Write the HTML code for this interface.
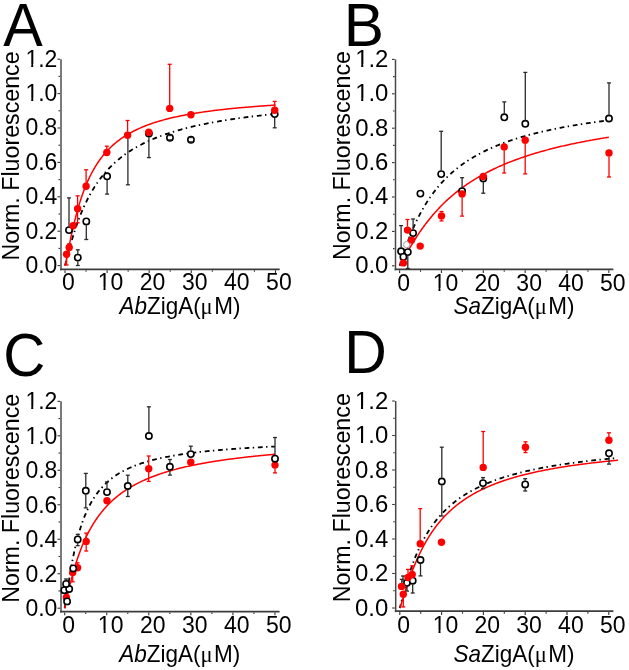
<!DOCTYPE html><html><head><meta charset="utf-8"><style>html,body{margin:0;padding:0;background:#fff;}svg{display:block;will-change:transform;}text{font-family:"Liberation Sans", sans-serif;fill:#000;}</style></head><body>
<svg width="629" height="670" viewBox="0 0 629 670">
<rect width="629" height="670" fill="#fff"/>
<defs><clipPath id="clipA"><rect x="61.9" y="29.200000000000017" width="223.7" height="239.2"/></clipPath></defs>
<line x1="61.0" y1="59.20000000000002" x2="61.0" y2="270.2" stroke="#6b6b6b" stroke-width="1.8"/>
<line x1="60.1" y1="269.3" x2="279.7" y2="269.3" stroke="#3c3c3c" stroke-width="1.8"/>
<line x1="57.50" y1="265.60" x2="60.1" y2="265.60" stroke="#333" stroke-width="1.1"/>
<line x1="58.50" y1="248.40" x2="60.1" y2="248.40" stroke="#333" stroke-width="1.1"/>
<line x1="57.50" y1="231.20" x2="60.1" y2="231.20" stroke="#333" stroke-width="1.1"/>
<line x1="58.50" y1="214.00" x2="60.1" y2="214.00" stroke="#333" stroke-width="1.1"/>
<line x1="57.50" y1="196.80" x2="60.1" y2="196.80" stroke="#333" stroke-width="1.1"/>
<line x1="58.50" y1="179.60" x2="60.1" y2="179.60" stroke="#333" stroke-width="1.1"/>
<line x1="57.50" y1="162.40" x2="60.1" y2="162.40" stroke="#333" stroke-width="1.1"/>
<line x1="58.50" y1="145.20" x2="60.1" y2="145.20" stroke="#333" stroke-width="1.1"/>
<line x1="57.50" y1="128.00" x2="60.1" y2="128.00" stroke="#333" stroke-width="1.1"/>
<line x1="58.50" y1="110.80" x2="60.1" y2="110.80" stroke="#333" stroke-width="1.1"/>
<line x1="57.50" y1="93.60" x2="60.1" y2="93.60" stroke="#333" stroke-width="1.1"/>
<line x1="58.50" y1="76.40" x2="60.1" y2="76.40" stroke="#333" stroke-width="1.1"/>
<line x1="57.50" y1="59.20" x2="60.1" y2="59.20" stroke="#333" stroke-width="1.1"/>
<line x1="65.00" y1="270.2" x2="65.00" y2="273.00" stroke="#333" stroke-width="1.1"/>
<line x1="86.05" y1="270.2" x2="86.05" y2="271.80" stroke="#333" stroke-width="1.1"/>
<line x1="107.10" y1="270.2" x2="107.10" y2="273.00" stroke="#333" stroke-width="1.1"/>
<line x1="128.15" y1="270.2" x2="128.15" y2="271.80" stroke="#333" stroke-width="1.1"/>
<line x1="149.20" y1="270.2" x2="149.20" y2="273.00" stroke="#333" stroke-width="1.1"/>
<line x1="170.25" y1="270.2" x2="170.25" y2="271.80" stroke="#333" stroke-width="1.1"/>
<line x1="191.30" y1="270.2" x2="191.30" y2="273.00" stroke="#333" stroke-width="1.1"/>
<line x1="212.35" y1="270.2" x2="212.35" y2="271.80" stroke="#333" stroke-width="1.1"/>
<line x1="233.40" y1="270.2" x2="233.40" y2="273.00" stroke="#333" stroke-width="1.1"/>
<line x1="254.45" y1="270.2" x2="254.45" y2="271.80" stroke="#333" stroke-width="1.1"/>
<line x1="275.50" y1="270.2" x2="275.50" y2="273.00" stroke="#333" stroke-width="1.1"/>
<g transform="translate(57.4,273.00) scale(1.0,1.04)"><text text-anchor="end" font-size="23">0.0</text>
</g>
<g transform="translate(57.4,238.60) scale(1.0,1.04)"><text text-anchor="end" font-size="23">0.2</text>
</g>
<g transform="translate(57.4,204.20) scale(1.0,1.04)"><text text-anchor="end" font-size="23">0.4</text>
</g>
<g transform="translate(57.4,169.80) scale(1.0,1.04)"><text text-anchor="end" font-size="23">0.6</text>
</g>
<g transform="translate(57.4,135.40) scale(1.0,1.04)"><text text-anchor="end" font-size="23">0.8</text>
</g>
<g transform="translate(57.4,101.00) scale(1.0,1.04)"><text text-anchor="end" font-size="23">1.0</text>
<rect x="-30.85" y="-2.58" width="4.66" height="3.48" fill="#fff"/>
<rect x="-24.15" y="-2.58" width="4.65" height="3.48" fill="#fff"/>
</g>
<g transform="translate(57.4,66.60) scale(1.0,1.04)"><text text-anchor="end" font-size="23">1.2</text>
<rect x="-30.85" y="-2.58" width="4.66" height="3.48" fill="#fff"/>
<rect x="-24.15" y="-2.58" width="4.65" height="3.48" fill="#fff"/>
</g>
<g transform="translate(68.40,290.0) scale(1,1.04)"><text text-anchor="middle" font-size="23">0</text>
</g>
<g transform="translate(110.50,290.0) scale(1,1.04)"><text text-anchor="middle" font-size="23">10</text>
<rect x="-11.66" y="-2.58" width="4.66" height="3.48" fill="#fff"/>
<rect x="-4.97" y="-2.58" width="4.65" height="3.48" fill="#fff"/>
</g>
<g transform="translate(152.60,290.0) scale(1,1.04)"><text text-anchor="middle" font-size="23">20</text>
</g>
<g transform="translate(194.70,290.0) scale(1,1.04)"><text text-anchor="middle" font-size="23">30</text>
</g>
<g transform="translate(236.80,290.0) scale(1,1.04)"><text text-anchor="middle" font-size="23">40</text>
</g>
<g transform="translate(278.90,290.0) scale(1,1.04)"><text text-anchor="middle" font-size="23">50</text>
</g>
<text transform="translate(18.5,260.4) rotate(-90) scale(1.01,1.04)" font-size="23">Norm. Fluorescence</text>
<text transform="translate(179.9,313.7) scale(1,1.04)" text-anchor="middle" font-size="22.5"><tspan font-style="italic">Ab</tspan>ZigA(<tspan font-family="Liberation Serif">μ</tspan><tspan dx="1.5">M)</tspan></text>
<text transform="translate(3.2,45.7) scale(1.02,1.055)" font-size="58">A</text>
<g clip-path="url(#clipA)">
<path d="M65.00,265.60 L65.22,264.88 L65.43,264.09 L65.65,263.28 L65.86,262.45 L66.08,261.61 L66.30,260.77 L66.51,259.93 L66.73,259.08 L66.94,258.24 L67.16,257.40 L67.37,256.56 L67.59,255.72 L67.81,254.89 L68.02,254.06 L68.24,253.23 L68.45,252.41 L68.67,251.59 L68.89,250.78 L69.10,249.97 L69.32,249.17 L69.53,248.37 L69.75,247.58 L69.97,246.79 L70.18,246.01 L70.40,245.23 L70.61,244.46 L70.83,243.70 L71.05,242.94 L71.26,242.18 L71.48,241.43 L71.69,240.69 L71.91,239.95 L72.12,239.22 L72.34,238.49 L72.56,237.77 L72.77,237.05 L72.99,236.34 L73.20,235.64 L73.42,234.94 L74.44,231.72 L75.45,228.62 L76.47,225.63 L77.48,222.75 L78.50,219.98 L79.51,217.30 L80.53,214.72 L81.54,212.23 L82.56,209.83 L83.57,207.52 L84.59,205.28 L85.61,203.12 L86.62,201.04 L87.64,199.02 L88.65,197.07 L89.67,195.18 L90.68,193.36 L91.70,191.59 L92.71,189.88 L93.73,188.22 L94.75,186.61 L95.76,185.05 L96.78,183.54 L97.79,182.07 L98.81,180.64 L99.82,179.26 L100.84,177.92 L101.85,176.61 L102.87,175.34 L103.88,174.10 L104.90,172.90 L105.92,171.73 L106.93,170.60 L107.95,169.49 L108.96,168.41 L109.98,167.36 L110.99,166.33 L112.01,165.33 L113.02,164.36 L114.04,163.41 L115.05,162.48 L116.07,161.58 L117.09,160.69 L118.10,159.83 L119.12,158.99 L120.13,158.17 L121.15,157.36 L122.16,156.58 L123.18,155.81 L124.19,155.06 L125.21,154.32 L126.22,153.60 L127.24,152.90 L128.26,152.21 L129.27,151.54 L130.29,150.88 L131.30,150.23 L132.32,149.60 L133.33,148.98 L134.35,148.37 L135.36,147.77 L136.38,147.19 L137.40,146.62 L138.41,146.06 L139.43,145.51 L140.44,144.97 L141.46,144.44 L142.47,143.92 L143.49,143.41 L144.50,142.90 L145.52,142.41 L146.53,141.93 L147.55,141.46 L148.57,140.99 L149.58,140.53 L150.60,140.08 L151.61,139.64 L152.63,139.21 L153.64,138.78 L154.66,138.36 L155.67,137.95 L156.69,137.54 L157.70,137.15 L158.72,136.75 L159.74,136.37 L160.75,135.99 L161.77,135.62 L162.78,135.25 L163.80,134.89 L164.81,134.53 L165.83,134.18 L166.84,133.84 L167.86,133.50 L168.87,133.16 L169.89,132.83 L170.91,132.51 L171.92,132.19 L172.94,131.87 L173.95,131.56 L174.97,131.26 L175.98,130.96 L177.00,130.66 L178.01,130.37 L179.03,130.08 L180.05,129.80 L181.06,129.52 L182.08,129.24 L183.09,128.97 L184.11,128.70 L185.12,128.43 L186.14,128.17 L187.15,127.91 L188.17,127.66 L189.18,127.41 L190.20,127.16 L191.22,126.92 L192.23,126.67 L193.25,126.44 L194.26,126.20 L195.28,125.97 L196.29,125.74 L197.31,125.51 L198.32,125.29 L199.34,125.07 L200.35,124.85 L201.37,124.64 L202.39,124.43 L203.40,124.22 L204.42,124.01 L205.43,123.80 L206.45,123.60 L207.46,123.40 L208.48,123.20 L209.49,123.01 L210.51,122.82 L211.52,122.63 L212.54,122.44 L213.56,122.25 L214.57,122.07 L215.59,121.89 L216.60,121.71 L217.62,121.53 L218.63,121.35 L219.65,121.18 L220.66,121.01 L221.68,120.84 L222.70,120.67 L223.71,120.50 L224.73,120.34 L225.74,120.18 L226.76,120.02 L227.77,119.86 L228.79,119.70 L229.80,119.54 L230.82,119.39 L231.83,119.24 L232.85,119.09 L233.87,118.94 L234.88,118.79 L235.90,118.64 L236.91,118.50 L237.93,118.36 L238.94,118.22 L239.96,118.08 L240.97,117.94 L241.99,117.80 L243.00,117.66 L244.02,117.53 L245.04,117.40 L246.05,117.26 L247.07,117.13 L248.08,117.00 L249.10,116.88 L250.11,116.75 L251.13,116.62 L252.14,116.50 L253.16,116.37 L254.17,116.25 L255.19,116.13 L256.21,116.01 L257.22,115.89 L258.24,115.78 L259.25,115.66 L260.27,115.54 L261.28,115.43 L262.30,115.32 L263.31,115.20 L264.33,115.09 L265.35,114.98 L266.36,114.87 L267.38,114.76 L268.39,114.66 L269.41,114.55 L270.42,114.45 L271.44,114.34 L272.45,114.24 L273.47,114.13 L274.48,114.03 L275.50,113.93" fill="none" stroke="#000" stroke-width="1.8" stroke-dasharray="4.8,3.40,1.4,3.81" stroke-dashoffset="0.23"/>
<path d="M65.00,265.60 L65.22,264.92 L65.43,264.07 L65.65,263.15 L65.86,262.17 L66.08,261.17 L66.30,260.14 L66.51,259.09 L66.73,258.03 L66.94,256.96 L67.16,255.88 L67.37,254.80 L67.59,253.72 L67.81,252.63 L68.02,251.54 L68.24,250.45 L68.45,249.37 L68.67,248.29 L68.89,247.21 L69.10,246.13 L69.32,245.07 L69.53,244.00 L69.75,242.94 L69.97,241.89 L70.18,240.85 L70.40,239.81 L70.61,238.78 L70.83,237.76 L71.05,236.74 L71.26,235.73 L71.48,234.73 L71.69,233.74 L71.91,232.76 L72.12,231.78 L72.34,230.81 L72.56,229.85 L72.77,228.90 L72.99,227.96 L73.20,227.03 L73.42,226.10 L74.44,221.86 L75.45,217.81 L76.47,213.94 L77.48,210.25 L78.50,206.73 L79.51,203.37 L80.53,200.16 L81.54,197.10 L82.56,194.17 L83.57,191.38 L84.59,188.72 L85.61,186.17 L86.62,183.73 L87.64,181.40 L88.65,179.16 L89.67,177.02 L90.68,174.97 L91.70,173.01 L92.71,171.12 L93.73,169.31 L94.75,167.57 L95.76,165.90 L96.78,164.29 L97.79,162.74 L98.81,161.25 L99.82,159.81 L100.84,158.43 L101.85,157.09 L102.87,155.81 L103.88,154.57 L104.90,153.37 L105.92,152.21 L106.93,151.09 L107.95,150.00 L108.96,148.95 L109.98,147.94 L110.99,146.96 L112.01,146.00 L113.02,145.08 L114.04,144.19 L115.05,143.32 L116.07,142.48 L117.09,141.66 L118.10,140.87 L119.12,140.10 L120.13,139.35 L121.15,138.63 L122.16,137.92 L123.18,137.23 L124.19,136.56 L125.21,135.91 L126.22,135.28 L127.24,134.66 L128.26,134.06 L129.27,133.47 L130.29,132.90 L131.30,132.34 L132.32,131.80 L133.33,131.27 L134.35,130.75 L135.36,130.25 L136.38,129.76 L137.40,129.28 L138.41,128.81 L139.43,128.35 L140.44,127.90 L141.46,127.46 L142.47,127.03 L143.49,126.62 L144.50,126.21 L145.52,125.81 L146.53,125.41 L147.55,125.03 L148.57,124.65 L149.58,124.29 L150.60,123.93 L151.61,123.57 L152.63,123.23 L153.64,122.89 L154.66,122.56 L155.67,122.23 L156.69,121.92 L157.70,121.60 L158.72,121.30 L159.74,121.00 L160.75,120.70 L161.77,120.41 L162.78,120.13 L163.80,119.85 L164.81,119.58 L165.83,119.31 L166.84,119.05 L167.86,118.79 L168.87,118.53 L169.89,118.28 L170.91,118.04 L171.92,117.80 L172.94,117.56 L173.95,117.33 L174.97,117.10 L175.98,116.88 L177.00,116.65 L178.01,116.44 L179.03,116.22 L180.05,116.01 L181.06,115.81 L182.08,115.60 L183.09,115.40 L184.11,115.21 L185.12,115.01 L186.14,114.82 L187.15,114.63 L188.17,114.45 L189.18,114.27 L190.20,114.09 L191.22,113.91 L192.23,113.74 L193.25,113.56 L194.26,113.40 L195.28,113.23 L196.29,113.07 L197.31,112.90 L198.32,112.75 L199.34,112.59 L200.35,112.43 L201.37,112.28 L202.39,112.13 L203.40,111.98 L204.42,111.84 L205.43,111.69 L206.45,111.55 L207.46,111.41 L208.48,111.27 L209.49,111.14 L210.51,111.00 L211.52,110.87 L212.54,110.74 L213.56,110.61 L214.57,110.48 L215.59,110.36 L216.60,110.23 L217.62,110.11 L218.63,109.99 L219.65,109.87 L220.66,109.75 L221.68,109.64 L222.70,109.52 L223.71,109.41 L224.73,109.30 L225.74,109.19 L226.76,109.08 L227.77,108.97 L228.79,108.86 L229.80,108.76 L230.82,108.65 L231.83,108.55 L232.85,108.45 L233.87,108.35 L234.88,108.25 L235.90,108.15 L236.91,108.05 L237.93,107.96 L238.94,107.86 L239.96,107.77 L240.97,107.68 L241.99,107.58 L243.00,107.49 L244.02,107.40 L245.04,107.32 L246.05,107.23 L247.07,107.14 L248.08,107.06 L249.10,106.97 L250.11,106.89 L251.13,106.80 L252.14,106.72 L253.16,106.64 L254.17,106.56 L255.19,106.48 L256.21,106.40 L257.22,106.33 L258.24,106.25 L259.25,106.17 L260.27,106.10 L261.28,106.02 L262.30,105.95 L263.31,105.88 L264.33,105.80 L265.35,105.73 L266.36,105.66 L267.38,105.59 L268.39,105.52 L269.41,105.45 L270.42,105.39 L271.44,105.32 L272.45,105.25 L273.47,105.19 L274.48,105.12 L275.50,105.06" fill="none" stroke="#ff0000" stroke-width="1.5"/>
</g>
<circle cx="69.00" cy="230.10" r="3.15" fill="#fff" stroke="#000" stroke-width="1.6"/>
<circle cx="77.80" cy="257.60" r="3.15" fill="#fff" stroke="#000" stroke-width="1.6"/>
<circle cx="86.30" cy="221.40" r="3.15" fill="#fff" stroke="#000" stroke-width="1.6"/>
<circle cx="107.10" cy="176.30" r="3.15" fill="#fff" stroke="#000" stroke-width="1.6"/>
<circle cx="148.90" cy="133.60" r="3.15" fill="#fff" stroke="#000" stroke-width="1.6"/>
<circle cx="169.95" cy="137.70" r="3.15" fill="#fff" stroke="#000" stroke-width="1.6"/>
<circle cx="190.95" cy="139.70" r="3.15" fill="#fff" stroke="#000" stroke-width="1.6"/>
<circle cx="274.70" cy="114.10" r="3.15" fill="#fff" stroke="#000" stroke-width="1.6"/>
<line x1="69.00" y1="197.90" x2="69.00" y2="226.45" stroke="#2a2a2a" stroke-width="1.3"/>
<line x1="67.00" y1="197.90" x2="71.00" y2="197.90" stroke="#2a2a2a" stroke-width="1.3"/>
<line x1="77.80" y1="249.80" x2="77.80" y2="253.95" stroke="#2a2a2a" stroke-width="1.3"/>
<line x1="75.80" y1="249.80" x2="79.80" y2="249.80" stroke="#2a2a2a" stroke-width="1.3"/>
<line x1="77.80" y1="261.25" x2="77.80" y2="265.50" stroke="#2a2a2a" stroke-width="1.3"/>
<line x1="75.80" y1="265.50" x2="79.80" y2="265.50" stroke="#2a2a2a" stroke-width="1.3"/>
<line x1="86.30" y1="225.05" x2="86.30" y2="239.50" stroke="#2a2a2a" stroke-width="1.3"/>
<line x1="84.30" y1="239.50" x2="88.30" y2="239.50" stroke="#2a2a2a" stroke-width="1.3"/>
<line x1="107.10" y1="179.95" x2="107.10" y2="194.10" stroke="#2a2a2a" stroke-width="1.3"/>
<line x1="105.10" y1="194.10" x2="109.10" y2="194.10" stroke="#2a2a2a" stroke-width="1.3"/>
<line x1="127.90" y1="138.85" x2="127.90" y2="184.80" stroke="#2a2a2a" stroke-width="1.3"/>
<line x1="125.90" y1="184.80" x2="129.90" y2="184.80" stroke="#2a2a2a" stroke-width="1.3"/>
<line x1="148.90" y1="137.25" x2="148.90" y2="157.60" stroke="#2a2a2a" stroke-width="1.3"/>
<line x1="146.90" y1="157.60" x2="150.90" y2="157.60" stroke="#2a2a2a" stroke-width="1.3"/>
<line x1="167.95" y1="135.50" x2="171.95" y2="135.50" stroke="#2a2a2a" stroke-width="1.3"/>
<line x1="167.95" y1="139.90" x2="171.95" y2="139.90" stroke="#2a2a2a" stroke-width="1.3"/>
<line x1="188.95" y1="137.50" x2="192.95" y2="137.50" stroke="#2a2a2a" stroke-width="1.3"/>
<line x1="188.95" y1="141.90" x2="192.95" y2="141.90" stroke="#2a2a2a" stroke-width="1.3"/>
<line x1="274.70" y1="117.75" x2="274.70" y2="127.80" stroke="#2a2a2a" stroke-width="1.3"/>
<line x1="272.70" y1="127.80" x2="276.70" y2="127.80" stroke="#2a2a2a" stroke-width="1.3"/>
<circle cx="66.60" cy="254.20" r="3.7" fill="#ff0000"/>
<circle cx="69.20" cy="247.40" r="3.7" fill="#ff0000"/>
<circle cx="73.10" cy="225.80" r="3.7" fill="#ff0000"/>
<circle cx="77.60" cy="208.80" r="3.7" fill="#ff0000"/>
<circle cx="86.10" cy="186.30" r="3.7" fill="#ff0000"/>
<circle cx="106.80" cy="152.50" r="3.7" fill="#ff0000"/>
<circle cx="127.60" cy="135.20" r="3.7" fill="#ff0000"/>
<circle cx="148.80" cy="132.30" r="3.7" fill="#ff0000"/>
<circle cx="169.70" cy="108.40" r="3.7" fill="#ff0000"/>
<circle cx="190.90" cy="114.70" r="3.7" fill="#ff0000"/>
<circle cx="274.70" cy="110.30" r="3.7" fill="#ff0000"/>
<line x1="66.60" y1="257.60" x2="66.60" y2="265.00" stroke="#ff0000" stroke-width="1.3"/>
<line x1="64.60" y1="265.00" x2="68.60" y2="265.00" stroke="#ff0000" stroke-width="1.3"/>
<line x1="67.20" y1="243.80" x2="71.20" y2="243.80" stroke="#ff0000" stroke-width="1.3"/>
<line x1="77.60" y1="195.80" x2="77.60" y2="205.40" stroke="#ff0000" stroke-width="1.3"/>
<line x1="75.60" y1="195.80" x2="79.60" y2="195.80" stroke="#ff0000" stroke-width="1.3"/>
<line x1="77.60" y1="212.20" x2="77.60" y2="222.80" stroke="#ff0000" stroke-width="1.3"/>
<line x1="75.60" y1="222.80" x2="79.60" y2="222.80" stroke="#ff0000" stroke-width="1.3"/>
<line x1="86.10" y1="169.80" x2="86.10" y2="182.90" stroke="#ff0000" stroke-width="1.3"/>
<line x1="84.10" y1="169.80" x2="88.10" y2="169.80" stroke="#ff0000" stroke-width="1.3"/>
<line x1="106.80" y1="146.20" x2="106.80" y2="149.10" stroke="#ff0000" stroke-width="1.3"/>
<line x1="104.80" y1="146.20" x2="108.80" y2="146.20" stroke="#ff0000" stroke-width="1.3"/>
<line x1="127.60" y1="120.50" x2="127.60" y2="131.80" stroke="#ff0000" stroke-width="1.3"/>
<line x1="125.60" y1="120.50" x2="129.60" y2="120.50" stroke="#ff0000" stroke-width="1.3"/>
<line x1="169.70" y1="64.30" x2="169.70" y2="105.00" stroke="#ff0000" stroke-width="1.3"/>
<line x1="167.70" y1="64.30" x2="171.70" y2="64.30" stroke="#ff0000" stroke-width="1.3"/>
<line x1="274.70" y1="101.40" x2="274.70" y2="106.90" stroke="#ff0000" stroke-width="1.3"/>
<line x1="272.70" y1="101.40" x2="276.70" y2="101.40" stroke="#ff0000" stroke-width="1.3"/>
<defs><clipPath id="clipB"><rect x="396.4" y="29.400000000000006" width="222.89999999999998" height="239.0"/></clipPath></defs>
<line x1="395.5" y1="59.400000000000006" x2="395.5" y2="270.2" stroke="#474747" stroke-width="1.5"/>
<line x1="394.6" y1="269.3" x2="613.4" y2="269.3" stroke="#3c3c3c" stroke-width="1.8"/>
<line x1="392.00" y1="265.80" x2="394.6" y2="265.80" stroke="#333" stroke-width="1.1"/>
<line x1="393.00" y1="248.60" x2="394.6" y2="248.60" stroke="#333" stroke-width="1.1"/>
<line x1="392.00" y1="231.40" x2="394.6" y2="231.40" stroke="#333" stroke-width="1.1"/>
<line x1="393.00" y1="214.20" x2="394.6" y2="214.20" stroke="#333" stroke-width="1.1"/>
<line x1="392.00" y1="197.00" x2="394.6" y2="197.00" stroke="#333" stroke-width="1.1"/>
<line x1="393.00" y1="179.80" x2="394.6" y2="179.80" stroke="#333" stroke-width="1.1"/>
<line x1="392.00" y1="162.60" x2="394.6" y2="162.60" stroke="#333" stroke-width="1.1"/>
<line x1="393.00" y1="145.40" x2="394.6" y2="145.40" stroke="#333" stroke-width="1.1"/>
<line x1="392.00" y1="128.20" x2="394.6" y2="128.20" stroke="#333" stroke-width="1.1"/>
<line x1="393.00" y1="111.00" x2="394.6" y2="111.00" stroke="#333" stroke-width="1.1"/>
<line x1="392.00" y1="93.80" x2="394.6" y2="93.80" stroke="#333" stroke-width="1.1"/>
<line x1="393.00" y1="76.60" x2="394.6" y2="76.60" stroke="#333" stroke-width="1.1"/>
<line x1="392.00" y1="59.40" x2="394.6" y2="59.40" stroke="#333" stroke-width="1.1"/>
<line x1="399.60" y1="270.2" x2="399.60" y2="273.00" stroke="#333" stroke-width="1.1"/>
<line x1="420.53" y1="270.2" x2="420.53" y2="271.80" stroke="#333" stroke-width="1.1"/>
<line x1="441.45" y1="270.2" x2="441.45" y2="273.00" stroke="#333" stroke-width="1.1"/>
<line x1="462.38" y1="270.2" x2="462.38" y2="271.80" stroke="#333" stroke-width="1.1"/>
<line x1="483.30" y1="270.2" x2="483.30" y2="273.00" stroke="#333" stroke-width="1.1"/>
<line x1="504.23" y1="270.2" x2="504.23" y2="271.80" stroke="#333" stroke-width="1.1"/>
<line x1="525.15" y1="270.2" x2="525.15" y2="273.00" stroke="#333" stroke-width="1.1"/>
<line x1="546.08" y1="270.2" x2="546.08" y2="271.80" stroke="#333" stroke-width="1.1"/>
<line x1="567.00" y1="270.2" x2="567.00" y2="273.00" stroke="#333" stroke-width="1.1"/>
<line x1="587.92" y1="270.2" x2="587.92" y2="271.80" stroke="#333" stroke-width="1.1"/>
<line x1="608.85" y1="270.2" x2="608.85" y2="273.00" stroke="#333" stroke-width="1.1"/>
<g transform="translate(388.4,273.20) scale(1.04,1.04)"><text text-anchor="end" font-size="23">0.0</text>
</g>
<g transform="translate(388.4,238.80) scale(1.04,1.04)"><text text-anchor="end" font-size="23">0.2</text>
</g>
<g transform="translate(388.4,204.40) scale(1.04,1.04)"><text text-anchor="end" font-size="23">0.4</text>
</g>
<g transform="translate(388.4,170.00) scale(1.04,1.04)"><text text-anchor="end" font-size="23">0.6</text>
</g>
<g transform="translate(388.4,135.60) scale(1.04,1.04)"><text text-anchor="end" font-size="23">0.8</text>
</g>
<g transform="translate(388.4,101.20) scale(1.04,1.04)"><text text-anchor="end" font-size="23">1.0</text>
<rect x="-30.85" y="-2.58" width="4.66" height="3.48" fill="#fff"/>
<rect x="-24.15" y="-2.58" width="4.65" height="3.48" fill="#fff"/>
</g>
<g transform="translate(388.4,66.80) scale(1.04,1.04)"><text text-anchor="end" font-size="23">1.2</text>
<rect x="-30.85" y="-2.58" width="4.66" height="3.48" fill="#fff"/>
<rect x="-24.15" y="-2.58" width="4.65" height="3.48" fill="#fff"/>
</g>
<g transform="translate(403.60,290.6) scale(1,1.04)"><text text-anchor="middle" font-size="23">0</text>
</g>
<g transform="translate(445.45,290.6) scale(1,1.04)"><text text-anchor="middle" font-size="23">10</text>
<rect x="-11.66" y="-2.58" width="4.66" height="3.48" fill="#fff"/>
<rect x="-4.97" y="-2.58" width="4.65" height="3.48" fill="#fff"/>
</g>
<g transform="translate(487.30,290.6) scale(1,1.04)"><text text-anchor="middle" font-size="23">20</text>
</g>
<g transform="translate(529.15,290.6) scale(1,1.04)"><text text-anchor="middle" font-size="23">30</text>
</g>
<g transform="translate(571.00,290.6) scale(1,1.04)"><text text-anchor="middle" font-size="23">40</text>
</g>
<g transform="translate(612.85,290.6) scale(1,1.04)"><text text-anchor="middle" font-size="23">50</text>
</g>
<text transform="translate(349.5,260.1) rotate(-90) scale(1.01,1.04)" font-size="23">Norm. Fluorescence</text>
<text transform="translate(514.0,313.9) scale(1,1.04)" text-anchor="middle" font-size="22.5"><tspan font-style="italic">Sa</tspan>ZigA(<tspan font-family="Liberation Serif">μ</tspan><tspan dx="1.5">M)</tspan></text>
<text transform="translate(343.75,45.7) scale(1.04,1.055)" font-size="58">B</text>
<g clip-path="url(#clipB)">
<path d="M399.60,265.80 L399.81,265.21 L400.03,264.57 L400.24,263.92 L400.46,263.26 L400.67,262.60 L400.89,261.93 L401.10,261.27 L401.32,260.60 L401.53,259.93 L401.75,259.27 L401.96,258.60 L402.18,257.94 L402.39,257.28 L402.60,256.62 L402.82,255.96 L403.03,255.31 L403.25,254.66 L403.46,254.01 L403.68,253.37 L403.89,252.73 L404.11,252.09 L404.32,251.45 L404.54,250.82 L404.75,250.19 L404.97,249.57 L405.18,248.95 L405.39,248.33 L405.61,247.71 L405.82,247.10 L406.04,246.50 L406.25,245.89 L406.47,245.29 L406.68,244.70 L406.90,244.10 L407.11,243.51 L407.33,242.93 L407.54,242.34 L407.76,241.77 L407.97,241.19 L408.98,238.53 L409.99,235.95 L411.00,233.44 L412.01,231.01 L413.02,228.64 L414.03,226.35 L415.04,224.12 L416.05,221.95 L417.06,219.85 L418.06,217.81 L419.07,215.82 L420.08,213.89 L421.09,212.01 L422.10,210.19 L423.11,208.41 L424.12,206.69 L425.13,205.00 L426.14,203.37 L427.15,201.77 L428.16,200.22 L429.17,198.71 L430.18,197.23 L431.19,195.79 L432.20,194.39 L433.21,193.02 L434.22,191.69 L435.23,190.39 L436.23,189.12 L437.24,187.88 L438.25,186.66 L439.26,185.48 L440.27,184.32 L441.28,183.19 L442.29,182.09 L443.30,181.01 L444.31,179.95 L445.32,178.92 L446.33,177.91 L447.34,176.92 L448.35,175.95 L449.36,175.01 L450.37,174.08 L451.38,173.17 L452.39,172.28 L453.40,171.41 L454.40,170.55 L455.41,169.72 L456.42,168.90 L457.43,168.09 L458.44,167.30 L459.45,166.53 L460.46,165.77 L461.47,165.03 L462.48,164.30 L463.49,163.58 L464.50,162.87 L465.51,162.18 L466.52,161.50 L467.53,160.84 L468.54,160.18 L469.55,159.54 L470.56,158.91 L471.57,158.29 L472.57,157.68 L473.58,157.08 L474.59,156.49 L475.60,155.91 L476.61,155.34 L477.62,154.78 L478.63,154.23 L479.64,153.69 L480.65,153.16 L481.66,152.63 L482.67,152.12 L483.68,151.61 L484.69,151.11 L485.70,150.62 L486.71,150.13 L487.72,149.65 L488.73,149.19 L489.74,148.72 L490.74,148.27 L491.75,147.82 L492.76,147.38 L493.77,146.94 L494.78,146.51 L495.79,146.09 L496.80,145.67 L497.81,145.26 L498.82,144.86 L499.83,144.46 L500.84,144.06 L501.85,143.68 L502.86,143.29 L503.87,142.92 L504.88,142.54 L505.89,142.18 L506.90,141.82 L507.91,141.46 L508.91,141.11 L509.92,140.76 L510.93,140.41 L511.94,140.08 L512.95,139.74 L513.96,139.41 L514.97,139.09 L515.98,138.76 L516.99,138.45 L518.00,138.13 L519.01,137.82 L520.02,137.52 L521.03,137.22 L522.04,136.92 L523.05,136.63 L524.06,136.33 L525.07,136.05 L526.08,135.76 L527.08,135.48 L528.09,135.21 L529.10,134.93 L530.11,134.66 L531.12,134.39 L532.13,134.13 L533.14,133.87 L534.15,133.61 L535.16,133.36 L536.17,133.10 L537.18,132.85 L538.19,132.61 L539.20,132.36 L540.21,132.12 L541.22,131.89 L542.23,131.65 L543.24,131.42 L544.25,131.19 L545.25,130.96 L546.26,130.73 L547.27,130.51 L548.28,130.29 L549.29,130.07 L550.30,129.85 L551.31,129.64 L552.32,129.43 L553.33,129.22 L554.34,129.01 L555.35,128.81 L556.36,128.60 L557.37,128.40 L558.38,128.21 L559.39,128.01 L560.40,127.81 L561.41,127.62 L562.42,127.43 L563.42,127.24 L564.43,127.05 L565.44,126.87 L566.45,126.69 L567.46,126.50 L568.47,126.32 L569.48,126.15 L570.49,125.97 L571.50,125.79 L572.51,125.62 L573.52,125.45 L574.53,125.28 L575.54,125.11 L576.55,124.95 L577.56,124.78 L578.57,124.62 L579.58,124.46 L580.59,124.29 L581.59,124.14 L582.60,123.98 L583.61,123.82 L584.62,123.67 L585.63,123.51 L586.64,123.36 L587.65,123.21 L588.66,123.06 L589.67,122.91 L590.68,122.77 L591.69,122.62 L592.70,122.48 L593.71,122.34 L594.72,122.19 L595.73,122.05 L596.74,121.91 L597.75,121.78 L598.76,121.64 L599.76,121.50 L600.77,121.37 L601.78,121.24 L602.79,121.10 L603.80,120.97 L604.81,120.84 L605.82,120.71 L606.83,120.59 L607.84,120.46 L608.85,120.33" fill="none" stroke="#000" stroke-width="1.8" stroke-dasharray="4.8,3.40,1.4,3.74" stroke-dashoffset="0.52"/>
<path d="M399.60,265.80 L399.81,265.51 L400.03,265.19 L400.24,264.85 L400.46,264.49 L400.67,264.14 L400.89,263.77 L401.10,263.40 L401.32,263.03 L401.53,262.66 L401.75,262.28 L401.96,261.90 L402.18,261.52 L402.39,261.13 L402.60,260.75 L402.82,260.37 L403.03,259.98 L403.25,259.60 L403.46,259.21 L403.68,258.82 L403.89,258.44 L404.11,258.05 L404.32,257.66 L404.54,257.28 L404.75,256.89 L404.97,256.51 L405.18,256.12 L405.39,255.74 L405.61,255.35 L405.82,254.97 L406.04,254.58 L406.25,254.20 L406.47,253.82 L406.68,253.44 L406.90,253.06 L407.11,252.68 L407.33,252.30 L407.54,251.92 L407.76,251.54 L407.97,251.17 L408.98,249.41 L409.99,247.67 L411.00,245.96 L412.01,244.27 L413.02,242.60 L414.03,240.97 L415.04,239.35 L416.05,237.77 L417.06,236.21 L418.06,234.67 L419.07,233.16 L420.08,231.68 L421.09,230.22 L422.10,228.79 L423.11,227.38 L424.12,225.99 L425.13,224.63 L426.14,223.30 L427.15,221.98 L428.16,220.69 L429.17,219.42 L430.18,218.18 L431.19,216.95 L432.20,215.74 L433.21,214.56 L434.22,213.40 L435.23,212.25 L436.23,211.13 L437.24,210.02 L438.25,208.93 L439.26,207.87 L440.27,206.81 L441.28,205.78 L442.29,204.76 L443.30,203.76 L444.31,202.78 L445.32,201.81 L446.33,200.86 L447.34,199.92 L448.35,199.00 L449.36,198.09 L450.37,197.20 L451.38,196.32 L452.39,195.46 L453.40,194.61 L454.40,193.77 L455.41,192.94 L456.42,192.13 L457.43,191.33 L458.44,190.54 L459.45,189.77 L460.46,189.00 L461.47,188.25 L462.48,187.51 L463.49,186.78 L464.50,186.06 L465.51,185.35 L466.52,184.65 L467.53,183.96 L468.54,183.28 L469.55,182.61 L470.56,181.95 L471.57,181.30 L472.57,180.66 L473.58,180.02 L474.59,179.40 L475.60,178.79 L476.61,178.18 L477.62,177.58 L478.63,176.99 L479.64,176.41 L480.65,175.83 L481.66,175.27 L482.67,174.71 L483.68,174.15 L484.69,173.61 L485.70,173.07 L486.71,172.54 L487.72,172.02 L488.73,171.50 L489.74,170.99 L490.74,170.48 L491.75,169.99 L492.76,169.50 L493.77,169.01 L494.78,168.53 L495.79,168.06 L496.80,167.59 L497.81,167.13 L498.82,166.67 L499.83,166.22 L500.84,165.78 L501.85,165.34 L502.86,164.90 L503.87,164.47 L504.88,164.05 L505.89,163.63 L506.90,163.21 L507.91,162.80 L508.91,162.40 L509.92,162.00 L510.93,161.60 L511.94,161.21 L512.95,160.83 L513.96,160.44 L514.97,160.07 L515.98,159.69 L516.99,159.32 L518.00,158.96 L519.01,158.60 L520.02,158.24 L521.03,157.88 L522.04,157.53 L523.05,157.19 L524.06,156.85 L525.07,156.51 L526.08,156.17 L527.08,155.84 L528.09,155.51 L529.10,155.19 L530.11,154.87 L531.12,154.55 L532.13,154.23 L533.14,153.92 L534.15,153.62 L535.16,153.31 L536.17,153.01 L537.18,152.71 L538.19,152.41 L539.20,152.12 L540.21,151.83 L541.22,151.54 L542.23,151.26 L543.24,150.98 L544.25,150.70 L545.25,150.42 L546.26,150.15 L547.27,149.88 L548.28,149.61 L549.29,149.35 L550.30,149.09 L551.31,148.82 L552.32,148.57 L553.33,148.31 L554.34,148.06 L555.35,147.81 L556.36,147.56 L557.37,147.31 L558.38,147.07 L559.39,146.83 L560.40,146.59 L561.41,146.35 L562.42,146.12 L563.42,145.88 L564.43,145.65 L565.44,145.43 L566.45,145.20 L567.46,144.97 L568.47,144.75 L569.48,144.53 L570.49,144.31 L571.50,144.10 L572.51,143.88 L573.52,143.67 L574.53,143.46 L575.54,143.25 L576.55,143.04 L577.56,142.84 L578.57,142.63 L579.58,142.43 L580.59,142.23 L581.59,142.03 L582.60,141.83 L583.61,141.64 L584.62,141.44 L585.63,141.25 L586.64,141.06 L587.65,140.87 L588.66,140.68 L589.67,140.50 L590.68,140.31 L591.69,140.13 L592.70,139.95 L593.71,139.77 L594.72,139.59 L595.73,139.41 L596.74,139.24 L597.75,139.06 L598.76,138.89 L599.76,138.72 L600.77,138.55 L601.78,138.38 L602.79,138.21 L603.80,138.05 L604.81,137.88 L605.82,137.72 L606.83,137.55 L607.84,137.39 L608.85,137.23" fill="none" stroke="#ff0000" stroke-width="1.5"/>
</g>
<circle cx="401.10" cy="251.30" r="3.15" fill="#fff" stroke="#000" stroke-width="1.6"/>
<circle cx="407.80" cy="252.10" r="3.15" fill="#fff" stroke="#000" stroke-width="1.6"/>
<circle cx="403.40" cy="256.90" r="3.15" fill="#fff" stroke="#000" stroke-width="1.6"/>
<circle cx="406.70" cy="244.60" r="3.15" fill="#fff" stroke="#999" stroke-width="1.0"/>
<circle cx="413.10" cy="233.10" r="3.15" fill="#fff" stroke="#000" stroke-width="1.6"/>
<circle cx="420.40" cy="193.60" r="3.15" fill="#fff" stroke="#000" stroke-width="1.6"/>
<circle cx="441.20" cy="174.10" r="3.15" fill="#fff" stroke="#000" stroke-width="1.6"/>
<circle cx="462.10" cy="191.10" r="3.15" fill="#fff" stroke="#000" stroke-width="1.6"/>
<circle cx="483.30" cy="178.40" r="3.15" fill="#fff" stroke="#000" stroke-width="1.6"/>
<circle cx="504.30" cy="117.30" r="3.15" fill="#fff" stroke="#000" stroke-width="1.6"/>
<circle cx="525.30" cy="123.80" r="3.15" fill="#fff" stroke="#000" stroke-width="1.6"/>
<circle cx="609.00" cy="118.50" r="3.15" fill="#fff" stroke="#000" stroke-width="1.6"/>
<line x1="401.10" y1="225.60" x2="401.10" y2="247.65" stroke="#2a2a2a" stroke-width="1.3"/>
<line x1="399.10" y1="225.60" x2="403.10" y2="225.60" stroke="#2a2a2a" stroke-width="1.3"/>
<line x1="407.80" y1="255.75" x2="407.80" y2="268.50" stroke="#2a2a2a" stroke-width="1.3"/>
<line x1="405.80" y1="268.50" x2="409.80" y2="268.50" stroke="#2a2a2a" stroke-width="1.3"/>
<line x1="413.10" y1="219.00" x2="413.10" y2="229.45" stroke="#2a2a2a" stroke-width="1.3"/>
<line x1="411.10" y1="219.00" x2="415.10" y2="219.00" stroke="#2a2a2a" stroke-width="1.3"/>
<line x1="441.20" y1="131.30" x2="441.20" y2="170.45" stroke="#2a2a2a" stroke-width="1.3"/>
<line x1="439.20" y1="131.30" x2="443.20" y2="131.30" stroke="#2a2a2a" stroke-width="1.3"/>
<line x1="462.10" y1="177.70" x2="462.10" y2="187.45" stroke="#2a2a2a" stroke-width="1.3"/>
<line x1="460.10" y1="177.70" x2="464.10" y2="177.70" stroke="#2a2a2a" stroke-width="1.3"/>
<line x1="483.30" y1="182.05" x2="483.30" y2="193.20" stroke="#2a2a2a" stroke-width="1.3"/>
<line x1="481.30" y1="193.20" x2="485.30" y2="193.20" stroke="#2a2a2a" stroke-width="1.3"/>
<line x1="504.30" y1="101.90" x2="504.30" y2="113.65" stroke="#2a2a2a" stroke-width="1.3"/>
<line x1="502.30" y1="101.90" x2="506.30" y2="101.90" stroke="#2a2a2a" stroke-width="1.3"/>
<line x1="525.30" y1="72.40" x2="525.30" y2="120.15" stroke="#2a2a2a" stroke-width="1.3"/>
<line x1="523.30" y1="72.40" x2="527.30" y2="72.40" stroke="#2a2a2a" stroke-width="1.3"/>
<line x1="609.00" y1="82.90" x2="609.00" y2="114.85" stroke="#2a2a2a" stroke-width="1.3"/>
<line x1="607.00" y1="82.90" x2="611.00" y2="82.90" stroke="#2a2a2a" stroke-width="1.3"/>
<circle cx="403.40" cy="262.90" r="3.7" fill="#ff0000"/>
<circle cx="411.60" cy="240.10" r="3.7" fill="#ff0000"/>
<circle cx="407.50" cy="230.10" r="3.7" fill="#ff0000"/>
<circle cx="420.20" cy="246.10" r="3.7" fill="#ff0000"/>
<circle cx="441.50" cy="215.90" r="3.7" fill="#ff0000"/>
<circle cx="462.10" cy="194.00" r="3.7" fill="#ff0000"/>
<circle cx="483.30" cy="176.50" r="3.7" fill="#ff0000"/>
<circle cx="504.20" cy="146.90" r="3.7" fill="#ff0000"/>
<circle cx="525.20" cy="140.30" r="3.7" fill="#ff0000"/>
<circle cx="609.00" cy="152.90" r="3.7" fill="#ff0000"/>
<line x1="407.50" y1="219.50" x2="407.50" y2="226.70" stroke="#ff0000" stroke-width="1.3"/>
<line x1="405.50" y1="219.50" x2="409.50" y2="219.50" stroke="#ff0000" stroke-width="1.3"/>
<line x1="441.50" y1="211.50" x2="441.50" y2="212.50" stroke="#ff0000" stroke-width="1.3"/>
<line x1="439.50" y1="211.50" x2="443.50" y2="211.50" stroke="#ff0000" stroke-width="1.3"/>
<line x1="441.50" y1="219.30" x2="441.50" y2="220.90" stroke="#ff0000" stroke-width="1.3"/>
<line x1="439.50" y1="220.90" x2="443.50" y2="220.90" stroke="#ff0000" stroke-width="1.3"/>
<line x1="462.10" y1="197.40" x2="462.10" y2="216.10" stroke="#ff0000" stroke-width="1.3"/>
<line x1="460.10" y1="216.10" x2="464.10" y2="216.10" stroke="#ff0000" stroke-width="1.3"/>
<line x1="504.20" y1="150.30" x2="504.20" y2="173.00" stroke="#ff0000" stroke-width="1.3"/>
<line x1="502.20" y1="173.00" x2="506.20" y2="173.00" stroke="#ff0000" stroke-width="1.3"/>
<line x1="525.20" y1="143.70" x2="525.20" y2="173.90" stroke="#ff0000" stroke-width="1.3"/>
<line x1="523.20" y1="173.90" x2="527.20" y2="173.90" stroke="#ff0000" stroke-width="1.3"/>
<line x1="609.00" y1="156.30" x2="609.00" y2="177.00" stroke="#ff0000" stroke-width="1.3"/>
<line x1="607.00" y1="177.00" x2="611.00" y2="177.00" stroke="#ff0000" stroke-width="1.3"/>
<defs><clipPath id="clipC"><rect x="61.9" y="371.32000000000005" width="223.60000000000002" height="239.37999999999997"/></clipPath></defs>
<line x1="61.0" y1="401.32000000000005" x2="61.0" y2="612.5" stroke="#6b6b6b" stroke-width="1.8"/>
<line x1="60.1" y1="611.6" x2="279.6" y2="611.6" stroke="#3c3c3c" stroke-width="1.8"/>
<line x1="57.50" y1="608.20" x2="60.1" y2="608.20" stroke="#333" stroke-width="1.1"/>
<line x1="58.50" y1="590.96" x2="60.1" y2="590.96" stroke="#333" stroke-width="1.1"/>
<line x1="57.50" y1="573.72" x2="60.1" y2="573.72" stroke="#333" stroke-width="1.1"/>
<line x1="58.50" y1="556.48" x2="60.1" y2="556.48" stroke="#333" stroke-width="1.1"/>
<line x1="57.50" y1="539.24" x2="60.1" y2="539.24" stroke="#333" stroke-width="1.1"/>
<line x1="58.50" y1="522.00" x2="60.1" y2="522.00" stroke="#333" stroke-width="1.1"/>
<line x1="57.50" y1="504.76" x2="60.1" y2="504.76" stroke="#333" stroke-width="1.1"/>
<line x1="58.50" y1="487.52" x2="60.1" y2="487.52" stroke="#333" stroke-width="1.1"/>
<line x1="57.50" y1="470.28" x2="60.1" y2="470.28" stroke="#333" stroke-width="1.1"/>
<line x1="58.50" y1="453.04" x2="60.1" y2="453.04" stroke="#333" stroke-width="1.1"/>
<line x1="57.50" y1="435.80" x2="60.1" y2="435.80" stroke="#333" stroke-width="1.1"/>
<line x1="58.50" y1="418.56" x2="60.1" y2="418.56" stroke="#333" stroke-width="1.1"/>
<line x1="57.50" y1="401.32" x2="60.1" y2="401.32" stroke="#333" stroke-width="1.1"/>
<line x1="64.70" y1="612.5" x2="64.70" y2="615.30" stroke="#333" stroke-width="1.1"/>
<line x1="85.72" y1="612.5" x2="85.72" y2="614.10" stroke="#333" stroke-width="1.1"/>
<line x1="106.75" y1="612.5" x2="106.75" y2="615.30" stroke="#333" stroke-width="1.1"/>
<line x1="127.78" y1="612.5" x2="127.78" y2="614.10" stroke="#333" stroke-width="1.1"/>
<line x1="148.80" y1="612.5" x2="148.80" y2="615.30" stroke="#333" stroke-width="1.1"/>
<line x1="169.82" y1="612.5" x2="169.82" y2="614.10" stroke="#333" stroke-width="1.1"/>
<line x1="190.85" y1="612.5" x2="190.85" y2="615.30" stroke="#333" stroke-width="1.1"/>
<line x1="211.88" y1="612.5" x2="211.88" y2="614.10" stroke="#333" stroke-width="1.1"/>
<line x1="232.90" y1="612.5" x2="232.90" y2="615.30" stroke="#333" stroke-width="1.1"/>
<line x1="253.93" y1="612.5" x2="253.93" y2="614.10" stroke="#333" stroke-width="1.1"/>
<line x1="274.95" y1="612.5" x2="274.95" y2="615.30" stroke="#333" stroke-width="1.1"/>
<g transform="translate(57.4,616.00) scale(1.0,1.04)"><text text-anchor="end" font-size="23">0.0</text>
</g>
<g transform="translate(57.4,581.52) scale(1.0,1.04)"><text text-anchor="end" font-size="23">0.2</text>
</g>
<g transform="translate(57.4,547.04) scale(1.0,1.04)"><text text-anchor="end" font-size="23">0.4</text>
</g>
<g transform="translate(57.4,512.56) scale(1.0,1.04)"><text text-anchor="end" font-size="23">0.6</text>
</g>
<g transform="translate(57.4,478.08) scale(1.0,1.04)"><text text-anchor="end" font-size="23">0.8</text>
</g>
<g transform="translate(57.4,443.60) scale(1.0,1.04)"><text text-anchor="end" font-size="23">1.0</text>
<rect x="-30.85" y="-2.58" width="4.66" height="3.48" fill="#fff"/>
<rect x="-24.15" y="-2.58" width="4.65" height="3.48" fill="#fff"/>
</g>
<g transform="translate(57.4,409.12) scale(1.0,1.04)"><text text-anchor="end" font-size="23">1.2</text>
<rect x="-30.85" y="-2.58" width="4.66" height="3.48" fill="#fff"/>
<rect x="-24.15" y="-2.58" width="4.65" height="3.48" fill="#fff"/>
</g>
<g transform="translate(68.60,633.0) scale(1,1.04)"><text text-anchor="middle" font-size="23">0</text>
</g>
<g transform="translate(110.65,633.0) scale(1,1.04)"><text text-anchor="middle" font-size="23">10</text>
<rect x="-11.66" y="-2.58" width="4.66" height="3.48" fill="#fff"/>
<rect x="-4.97" y="-2.58" width="4.65" height="3.48" fill="#fff"/>
</g>
<g transform="translate(152.70,633.0) scale(1,1.04)"><text text-anchor="middle" font-size="23">20</text>
</g>
<g transform="translate(194.75,633.0) scale(1,1.04)"><text text-anchor="middle" font-size="23">30</text>
</g>
<g transform="translate(236.80,633.0) scale(1,1.04)"><text text-anchor="middle" font-size="23">40</text>
</g>
<g transform="translate(278.85,633.0) scale(1,1.04)"><text text-anchor="middle" font-size="23">50</text>
</g>
<text transform="translate(18.5,602.8) rotate(-90) scale(1.01,1.04)" font-size="23">Norm. Fluorescence</text>
<text transform="translate(179.7,661.5) scale(1,1.04)" text-anchor="middle" font-size="22.5"><tspan font-style="italic">Ab</tspan>ZigA(<tspan font-family="Liberation Serif">μ</tspan><tspan dx="1.5">M)</tspan></text>
<text transform="translate(3.25,376.3) scale(1.005,1.062)" font-size="58">C</text>
<g clip-path="url(#clipC)">
<path d="M64.70,608.20 L64.92,607.20 L65.13,605.96 L65.35,604.64 L65.56,603.26 L65.78,601.84 L65.99,600.40 L66.21,598.94 L66.43,597.48 L66.64,596.01 L66.86,594.54 L67.07,593.08 L67.29,591.61 L67.50,590.16 L67.72,588.72 L67.93,587.28 L68.15,585.86 L68.37,584.45 L68.58,583.05 L68.80,581.66 L69.01,580.29 L69.23,578.94 L69.44,577.59 L69.66,576.27 L69.88,574.96 L70.09,573.66 L70.31,572.38 L70.52,571.12 L70.74,569.87 L70.95,568.64 L71.17,567.43 L71.38,566.23 L71.60,565.04 L71.82,563.87 L72.03,562.72 L72.25,561.58 L72.46,560.46 L72.68,559.35 L72.89,558.26 L73.11,557.18 L74.12,552.30 L75.14,547.72 L76.15,543.43 L77.17,539.41 L78.18,535.62 L79.20,532.07 L80.21,528.73 L81.22,525.58 L82.24,522.62 L83.25,519.82 L84.27,517.18 L85.28,514.68 L86.30,512.31 L87.31,510.07 L88.32,507.95 L89.34,505.93 L90.35,504.01 L91.37,502.18 L92.38,500.44 L93.40,498.78 L94.41,497.20 L95.42,495.69 L96.44,494.25 L97.45,492.87 L98.47,491.55 L99.48,490.28 L100.50,489.07 L101.51,487.91 L102.52,486.79 L103.54,485.72 L104.55,484.69 L105.57,483.69 L106.58,482.74 L107.60,481.82 L108.61,480.93 L109.62,480.08 L110.64,479.25 L111.65,478.46 L112.67,477.69 L113.68,476.94 L114.70,476.22 L115.71,475.53 L116.72,474.86 L117.74,474.21 L118.75,473.58 L119.77,472.96 L120.78,472.37 L121.80,471.80 L122.81,471.24 L123.82,470.70 L124.84,470.17 L125.85,469.66 L126.87,469.17 L127.88,468.69 L128.89,468.22 L129.91,467.76 L130.92,467.32 L131.94,466.89 L132.95,466.47 L133.97,466.06 L134.98,465.66 L135.99,465.27 L137.01,464.89 L138.02,464.52 L139.04,464.16 L140.05,463.81 L141.07,463.46 L142.08,463.13 L143.09,462.80 L144.11,462.48 L145.12,462.17 L146.14,461.86 L147.15,461.57 L148.17,461.28 L149.18,460.99 L150.19,460.71 L151.21,460.44 L152.22,460.17 L153.24,459.91 L154.25,459.66 L155.27,459.40 L156.28,459.16 L157.29,458.92 L158.31,458.68 L159.32,458.45 L160.34,458.23 L161.35,458.01 L162.37,457.79 L163.38,457.58 L164.39,457.37 L165.41,457.16 L166.42,456.96 L167.44,456.77 L168.45,456.57 L169.47,456.38 L170.48,456.20 L171.49,456.01 L172.51,455.83 L173.52,455.66 L174.54,455.49 L175.55,455.32 L176.57,455.15 L177.58,454.98 L178.59,454.82 L179.61,454.66 L180.62,454.51 L181.64,454.35 L182.65,454.20 L183.67,454.06 L184.68,453.91 L185.69,453.77 L186.71,453.62 L187.72,453.49 L188.74,453.35 L189.75,453.21 L190.77,453.08 L191.78,452.95 L192.79,452.82 L193.81,452.70 L194.82,452.57 L195.84,452.45 L196.85,452.33 L197.87,452.21 L198.88,452.09 L199.89,451.98 L200.91,451.86 L201.92,451.75 L202.94,451.64 L203.95,451.53 L204.97,451.43 L205.98,451.32 L206.99,451.22 L208.01,451.11 L209.02,451.01 L210.04,450.91 L211.05,450.81 L212.07,450.72 L213.08,450.62 L214.09,450.53 L215.11,450.43 L216.12,450.34 L217.14,450.25 L218.15,450.16 L219.17,450.07 L220.18,449.98 L221.19,449.90 L222.21,449.81 L223.22,449.73 L224.24,449.65 L225.25,449.56 L226.26,449.48 L227.28,449.40 L228.29,449.32 L229.31,449.25 L230.32,449.17 L231.34,449.09 L232.35,449.02 L233.36,448.95 L234.38,448.87 L235.39,448.80 L236.41,448.73 L237.42,448.66 L238.44,448.59 L239.45,448.52 L240.46,448.45 L241.48,448.38 L242.49,448.32 L243.51,448.25 L244.52,448.19 L245.54,448.12 L246.55,448.06 L247.56,447.99 L248.58,447.93 L249.59,447.87 L250.61,447.81 L251.62,447.75 L252.64,447.69 L253.65,447.63 L254.66,447.57 L255.68,447.52 L256.69,447.46 L257.71,447.40 L258.72,447.35 L259.74,447.29 L260.75,447.24 L261.76,447.18 L262.78,447.13 L263.79,447.08 L264.81,447.02 L265.82,446.97 L266.84,446.92 L267.85,446.87 L268.86,446.82 L269.88,446.77 L270.89,446.72 L271.91,446.67 L272.92,446.62 L273.94,446.58 L274.95,446.53" fill="none" stroke="#000" stroke-width="1.8" stroke-dasharray="4.8,3.40,1.4,3.73" stroke-dashoffset="0.54"/>
<path d="M64.70,608.20 L64.92,607.33 L65.13,606.38 L65.35,605.41 L65.56,604.42 L65.78,603.43 L65.99,602.43 L66.21,601.44 L66.43,600.45 L66.64,599.45 L66.86,598.47 L67.07,597.49 L67.29,596.51 L67.50,595.54 L67.72,594.57 L67.93,593.61 L68.15,592.66 L68.37,591.72 L68.58,590.78 L68.80,589.85 L69.01,588.93 L69.23,588.02 L69.44,587.11 L69.66,586.21 L69.88,585.32 L70.09,584.44 L70.31,583.57 L70.52,582.70 L70.74,581.84 L70.95,580.99 L71.17,580.14 L71.38,579.31 L71.60,578.48 L71.82,577.66 L72.03,576.84 L72.25,576.04 L72.46,575.24 L72.68,574.45 L72.89,573.67 L73.11,572.89 L74.12,569.34 L75.14,565.93 L76.15,562.68 L77.17,559.56 L78.18,556.58 L79.20,553.72 L80.21,550.98 L81.22,548.35 L82.24,545.82 L83.25,543.40 L84.27,541.07 L85.28,538.83 L86.30,536.68 L87.31,534.61 L88.32,532.61 L89.34,530.69 L90.35,528.84 L91.37,527.05 L92.38,525.32 L93.40,523.66 L94.41,522.05 L95.42,520.49 L96.44,518.99 L97.45,517.53 L98.47,516.12 L99.48,514.76 L100.50,513.43 L101.51,512.15 L102.52,510.91 L103.54,509.70 L104.55,508.53 L105.57,507.40 L106.58,506.30 L107.60,505.23 L108.61,504.18 L109.62,503.17 L110.64,502.19 L111.65,501.23 L112.67,500.30 L113.68,499.39 L114.70,498.50 L115.71,497.64 L116.72,496.80 L117.74,495.98 L118.75,495.19 L119.77,494.41 L120.78,493.65 L121.80,492.91 L122.81,492.19 L123.82,491.48 L124.84,490.79 L125.85,490.12 L126.87,489.46 L127.88,488.81 L128.89,488.18 L129.91,487.57 L130.92,486.97 L131.94,486.38 L132.95,485.80 L133.97,485.24 L134.98,484.69 L135.99,484.15 L137.01,483.62 L138.02,483.10 L139.04,482.59 L140.05,482.09 L141.07,481.60 L142.08,481.13 L143.09,480.66 L144.11,480.20 L145.12,479.75 L146.14,479.30 L147.15,478.87 L148.17,478.44 L149.18,478.02 L150.19,477.61 L151.21,477.21 L152.22,476.81 L153.24,476.43 L154.25,476.04 L155.27,475.67 L156.28,475.30 L157.29,474.94 L158.31,474.58 L159.32,474.23 L160.34,473.89 L161.35,473.55 L162.37,473.22 L163.38,472.89 L164.39,472.57 L165.41,472.25 L166.42,471.94 L167.44,471.63 L168.45,471.33 L169.47,471.03 L170.48,470.74 L171.49,470.45 L172.51,470.17 L173.52,469.89 L174.54,469.62 L175.55,469.35 L176.57,469.08 L177.58,468.82 L178.59,468.56 L179.61,468.30 L180.62,468.05 L181.64,467.81 L182.65,467.56 L183.67,467.32 L184.68,467.08 L185.69,466.85 L186.71,466.62 L187.72,466.39 L188.74,466.17 L189.75,465.95 L190.77,465.73 L191.78,465.51 L192.79,465.30 L193.81,465.09 L194.82,464.89 L195.84,464.68 L196.85,464.48 L197.87,464.28 L198.88,464.09 L199.89,463.89 L200.91,463.70 L201.92,463.51 L202.94,463.33 L203.95,463.14 L204.97,462.96 L205.98,462.78 L206.99,462.61 L208.01,462.43 L209.02,462.26 L210.04,462.09 L211.05,461.92 L212.07,461.75 L213.08,461.59 L214.09,461.42 L215.11,461.26 L216.12,461.11 L217.14,460.95 L218.15,460.79 L219.17,460.64 L220.18,460.49 L221.19,460.34 L222.21,460.19 L223.22,460.04 L224.24,459.90 L225.25,459.76 L226.26,459.61 L227.28,459.47 L228.29,459.34 L229.31,459.20 L230.32,459.06 L231.34,458.93 L232.35,458.80 L233.36,458.66 L234.38,458.53 L235.39,458.41 L236.41,458.28 L237.42,458.15 L238.44,458.03 L239.45,457.91 L240.46,457.78 L241.48,457.66 L242.49,457.54 L243.51,457.43 L244.52,457.31 L245.54,457.19 L246.55,457.08 L247.56,456.97 L248.58,456.85 L249.59,456.74 L250.61,456.63 L251.62,456.52 L252.64,456.41 L253.65,456.31 L254.66,456.20 L255.68,456.10 L256.69,455.99 L257.71,455.89 L258.72,455.79 L259.74,455.69 L260.75,455.59 L261.76,455.49 L262.78,455.39 L263.79,455.29 L264.81,455.20 L265.82,455.10 L266.84,455.01 L267.85,454.91 L268.86,454.82 L269.88,454.73 L270.89,454.64 L271.91,454.55 L272.92,454.46 L273.94,454.37 L274.95,454.28" fill="none" stroke="#ff0000" stroke-width="1.5"/>
</g>
<circle cx="66.40" cy="597.50" r="3.7" fill="#ff0000"/>
<circle cx="72.70" cy="572.60" r="3.7" fill="#ff0000"/>
<circle cx="77.60" cy="567.70" r="3.7" fill="#ff0000"/>
<circle cx="86.20" cy="541.40" r="3.7" fill="#ff0000"/>
<circle cx="107.00" cy="500.70" r="3.7" fill="#ff0000"/>
<circle cx="148.70" cy="468.70" r="3.7" fill="#ff0000"/>
<circle cx="190.80" cy="462.20" r="3.7" fill="#ff0000"/>
<circle cx="275.00" cy="465.10" r="3.7" fill="#ff0000"/>
<line x1="72.70" y1="576.00" x2="72.70" y2="581.80" stroke="#ff0000" stroke-width="1.3"/>
<line x1="70.70" y1="581.80" x2="74.70" y2="581.80" stroke="#ff0000" stroke-width="1.3"/>
<line x1="77.60" y1="562.80" x2="77.60" y2="564.30" stroke="#ff0000" stroke-width="1.3"/>
<line x1="75.60" y1="562.80" x2="79.60" y2="562.80" stroke="#ff0000" stroke-width="1.3"/>
<line x1="86.20" y1="533.10" x2="86.20" y2="538.00" stroke="#ff0000" stroke-width="1.3"/>
<line x1="84.20" y1="533.10" x2="88.20" y2="533.10" stroke="#ff0000" stroke-width="1.3"/>
<line x1="86.20" y1="544.80" x2="86.20" y2="551.00" stroke="#ff0000" stroke-width="1.3"/>
<line x1="84.20" y1="551.00" x2="88.20" y2="551.00" stroke="#ff0000" stroke-width="1.3"/>
<line x1="148.70" y1="456.00" x2="148.70" y2="465.30" stroke="#ff0000" stroke-width="1.3"/>
<line x1="146.70" y1="456.00" x2="150.70" y2="456.00" stroke="#ff0000" stroke-width="1.3"/>
<line x1="148.70" y1="472.10" x2="148.70" y2="481.40" stroke="#ff0000" stroke-width="1.3"/>
<line x1="146.70" y1="481.40" x2="150.70" y2="481.40" stroke="#ff0000" stroke-width="1.3"/>
<line x1="275.00" y1="468.50" x2="275.00" y2="472.90" stroke="#ff0000" stroke-width="1.3"/>
<line x1="273.00" y1="472.90" x2="277.00" y2="472.90" stroke="#ff0000" stroke-width="1.3"/>
<circle cx="67.10" cy="601.40" r="3.15" fill="#fff" stroke="#000" stroke-width="1.6"/>
<circle cx="64.30" cy="590.20" r="3.15" fill="#fff" stroke="#000" stroke-width="1.6"/>
<circle cx="69.20" cy="589.00" r="3.15" fill="#fff" stroke="#000" stroke-width="1.6"/>
<circle cx="66.10" cy="583.90" r="3.15" fill="#fff" stroke="#000" stroke-width="1.6"/>
<circle cx="73.20" cy="568.40" r="3.15" fill="#fff" stroke="#000" stroke-width="1.6"/>
<circle cx="77.70" cy="539.40" r="3.15" fill="#fff" stroke="#000" stroke-width="1.6"/>
<circle cx="85.80" cy="490.80" r="3.15" fill="#fff" stroke="#000" stroke-width="1.6"/>
<circle cx="107.00" cy="492.10" r="3.15" fill="#fff" stroke="#000" stroke-width="1.6"/>
<circle cx="127.80" cy="486.00" r="3.15" fill="#fff" stroke="#000" stroke-width="1.6"/>
<circle cx="148.90" cy="436.00" r="3.15" fill="#fff" stroke="#000" stroke-width="1.6"/>
<circle cx="169.90" cy="466.80" r="3.15" fill="#fff" stroke="#000" stroke-width="1.6"/>
<circle cx="190.80" cy="454.10" r="3.15" fill="#fff" stroke="#000" stroke-width="1.6"/>
<circle cx="275.00" cy="458.70" r="3.15" fill="#fff" stroke="#000" stroke-width="1.6"/>
<line x1="66.10" y1="579.00" x2="66.10" y2="580.25" stroke="#2a2a2a" stroke-width="1.3"/>
<line x1="64.10" y1="579.00" x2="68.10" y2="579.00" stroke="#2a2a2a" stroke-width="1.3"/>
<line x1="77.70" y1="534.40" x2="77.70" y2="535.75" stroke="#2a2a2a" stroke-width="1.3"/>
<line x1="75.70" y1="534.40" x2="79.70" y2="534.40" stroke="#2a2a2a" stroke-width="1.3"/>
<line x1="77.70" y1="543.05" x2="77.70" y2="545.70" stroke="#2a2a2a" stroke-width="1.3"/>
<line x1="75.70" y1="545.70" x2="79.70" y2="545.70" stroke="#2a2a2a" stroke-width="1.3"/>
<line x1="85.80" y1="473.40" x2="85.80" y2="487.15" stroke="#2a2a2a" stroke-width="1.3"/>
<line x1="83.80" y1="473.40" x2="87.80" y2="473.40" stroke="#2a2a2a" stroke-width="1.3"/>
<line x1="85.80" y1="494.45" x2="85.80" y2="507.90" stroke="#2a2a2a" stroke-width="1.3"/>
<line x1="83.80" y1="507.90" x2="87.80" y2="507.90" stroke="#2a2a2a" stroke-width="1.3"/>
<line x1="107.00" y1="481.90" x2="107.00" y2="488.45" stroke="#2a2a2a" stroke-width="1.3"/>
<line x1="105.00" y1="481.90" x2="109.00" y2="481.90" stroke="#2a2a2a" stroke-width="1.3"/>
<line x1="127.80" y1="475.20" x2="127.80" y2="482.35" stroke="#2a2a2a" stroke-width="1.3"/>
<line x1="125.80" y1="475.20" x2="129.80" y2="475.20" stroke="#2a2a2a" stroke-width="1.3"/>
<line x1="127.80" y1="489.65" x2="127.80" y2="496.50" stroke="#2a2a2a" stroke-width="1.3"/>
<line x1="125.80" y1="496.50" x2="129.80" y2="496.50" stroke="#2a2a2a" stroke-width="1.3"/>
<line x1="148.90" y1="406.80" x2="148.90" y2="432.35" stroke="#2a2a2a" stroke-width="1.3"/>
<line x1="146.90" y1="406.80" x2="150.90" y2="406.80" stroke="#2a2a2a" stroke-width="1.3"/>
<line x1="169.90" y1="459.50" x2="169.90" y2="463.15" stroke="#2a2a2a" stroke-width="1.3"/>
<line x1="167.90" y1="459.50" x2="171.90" y2="459.50" stroke="#2a2a2a" stroke-width="1.3"/>
<line x1="169.90" y1="470.45" x2="169.90" y2="475.10" stroke="#2a2a2a" stroke-width="1.3"/>
<line x1="167.90" y1="475.10" x2="171.90" y2="475.10" stroke="#2a2a2a" stroke-width="1.3"/>
<line x1="190.80" y1="446.20" x2="190.80" y2="450.45" stroke="#2a2a2a" stroke-width="1.3"/>
<line x1="188.80" y1="446.20" x2="192.80" y2="446.20" stroke="#2a2a2a" stroke-width="1.3"/>
<line x1="275.00" y1="437.50" x2="275.00" y2="455.05" stroke="#2a2a2a" stroke-width="1.3"/>
<line x1="273.00" y1="437.50" x2="277.00" y2="437.50" stroke="#2a2a2a" stroke-width="1.3"/>
<defs><clipPath id="clipD"><rect x="396.59999999999997" y="371.0" width="222.7" height="239.30000000000004"/></clipPath></defs>
<line x1="395.7" y1="401.0" x2="395.7" y2="612.1" stroke="#474747" stroke-width="1.5"/>
<line x1="394.8" y1="611.2" x2="613.4" y2="611.2" stroke="#3c3c3c" stroke-width="1.8"/>
<line x1="392.20" y1="608.00" x2="394.8" y2="608.00" stroke="#333" stroke-width="1.1"/>
<line x1="393.20" y1="590.75" x2="394.8" y2="590.75" stroke="#333" stroke-width="1.1"/>
<line x1="392.20" y1="573.50" x2="394.8" y2="573.50" stroke="#333" stroke-width="1.1"/>
<line x1="393.20" y1="556.25" x2="394.8" y2="556.25" stroke="#333" stroke-width="1.1"/>
<line x1="392.20" y1="539.00" x2="394.8" y2="539.00" stroke="#333" stroke-width="1.1"/>
<line x1="393.20" y1="521.75" x2="394.8" y2="521.75" stroke="#333" stroke-width="1.1"/>
<line x1="392.20" y1="504.50" x2="394.8" y2="504.50" stroke="#333" stroke-width="1.1"/>
<line x1="393.20" y1="487.25" x2="394.8" y2="487.25" stroke="#333" stroke-width="1.1"/>
<line x1="392.20" y1="470.00" x2="394.8" y2="470.00" stroke="#333" stroke-width="1.1"/>
<line x1="393.20" y1="452.75" x2="394.8" y2="452.75" stroke="#333" stroke-width="1.1"/>
<line x1="392.20" y1="435.50" x2="394.8" y2="435.50" stroke="#333" stroke-width="1.1"/>
<line x1="393.20" y1="418.25" x2="394.8" y2="418.25" stroke="#333" stroke-width="1.1"/>
<line x1="392.20" y1="401.00" x2="394.8" y2="401.00" stroke="#333" stroke-width="1.1"/>
<line x1="399.80" y1="612.1" x2="399.80" y2="614.90" stroke="#333" stroke-width="1.1"/>
<line x1="420.70" y1="612.1" x2="420.70" y2="613.70" stroke="#333" stroke-width="1.1"/>
<line x1="441.60" y1="612.1" x2="441.60" y2="614.90" stroke="#333" stroke-width="1.1"/>
<line x1="462.50" y1="612.1" x2="462.50" y2="613.70" stroke="#333" stroke-width="1.1"/>
<line x1="483.40" y1="612.1" x2="483.40" y2="614.90" stroke="#333" stroke-width="1.1"/>
<line x1="504.30" y1="612.1" x2="504.30" y2="613.70" stroke="#333" stroke-width="1.1"/>
<line x1="525.20" y1="612.1" x2="525.20" y2="614.90" stroke="#333" stroke-width="1.1"/>
<line x1="546.10" y1="612.1" x2="546.10" y2="613.70" stroke="#333" stroke-width="1.1"/>
<line x1="567.00" y1="612.1" x2="567.00" y2="614.90" stroke="#333" stroke-width="1.1"/>
<line x1="587.90" y1="612.1" x2="587.90" y2="613.70" stroke="#333" stroke-width="1.1"/>
<line x1="608.80" y1="612.1" x2="608.80" y2="614.90" stroke="#333" stroke-width="1.1"/>
<g transform="translate(388.2,615.70) scale(1.04,1.04)"><text text-anchor="end" font-size="23">0.0</text>
</g>
<g transform="translate(388.2,581.20) scale(1.04,1.04)"><text text-anchor="end" font-size="23">0.2</text>
</g>
<g transform="translate(388.2,546.70) scale(1.04,1.04)"><text text-anchor="end" font-size="23">0.4</text>
</g>
<g transform="translate(388.2,512.20) scale(1.04,1.04)"><text text-anchor="end" font-size="23">0.6</text>
</g>
<g transform="translate(388.2,477.70) scale(1.04,1.04)"><text text-anchor="end" font-size="23">0.8</text>
</g>
<g transform="translate(388.2,443.20) scale(1.04,1.04)"><text text-anchor="end" font-size="23">1.0</text>
<rect x="-30.85" y="-2.58" width="4.66" height="3.48" fill="#fff"/>
<rect x="-24.15" y="-2.58" width="4.65" height="3.48" fill="#fff"/>
</g>
<g transform="translate(388.2,408.70) scale(1.04,1.04)"><text text-anchor="end" font-size="23">1.2</text>
<rect x="-30.85" y="-2.58" width="4.66" height="3.48" fill="#fff"/>
<rect x="-24.15" y="-2.58" width="4.65" height="3.48" fill="#fff"/>
</g>
<g transform="translate(403.70,633.0) scale(1,1.04)"><text text-anchor="middle" font-size="23">0</text>
</g>
<g transform="translate(445.50,633.0) scale(1,1.04)"><text text-anchor="middle" font-size="23">10</text>
<rect x="-11.66" y="-2.58" width="4.66" height="3.48" fill="#fff"/>
<rect x="-4.97" y="-2.58" width="4.65" height="3.48" fill="#fff"/>
</g>
<g transform="translate(487.30,633.0) scale(1,1.04)"><text text-anchor="middle" font-size="23">20</text>
</g>
<g transform="translate(529.10,633.0) scale(1,1.04)"><text text-anchor="middle" font-size="23">30</text>
</g>
<g transform="translate(570.90,633.0) scale(1,1.04)"><text text-anchor="middle" font-size="23">40</text>
</g>
<g transform="translate(612.70,633.0) scale(1,1.04)"><text text-anchor="middle" font-size="23">50</text>
</g>
<text transform="translate(349.5,602.2) rotate(-90) scale(1.01,1.04)" font-size="23">Norm. Fluorescence</text>
<text transform="translate(514.0,662.1) scale(1,1.04)" text-anchor="middle" font-size="22.5"><tspan font-style="italic">Sa</tspan>ZigA(<tspan font-family="Liberation Serif">μ</tspan><tspan dx="1.5">M)</tspan></text>
<text transform="translate(344.15,372.6) scale(1.016,1.05)" font-size="58">D</text>
<g clip-path="url(#clipD)">
<path d="M399.80,608.00 L400.01,607.26 L400.23,606.46 L400.44,605.63 L400.66,604.79 L400.87,603.95 L401.09,603.10 L401.30,602.26 L401.51,601.41 L401.73,600.56 L401.94,599.72 L402.16,598.88 L402.37,598.04 L402.59,597.20 L402.80,596.37 L403.02,595.55 L403.23,594.73 L403.44,593.91 L403.66,593.10 L403.87,592.29 L404.09,591.49 L404.30,590.70 L404.52,589.91 L404.73,589.13 L404.94,588.35 L405.16,587.58 L405.37,586.81 L405.59,586.05 L405.80,585.29 L406.02,584.55 L406.23,583.80 L406.45,583.06 L406.66,582.33 L406.87,581.61 L407.09,580.89 L407.30,580.17 L407.52,579.46 L407.73,578.76 L407.95,578.06 L408.16,577.37 L409.20,574.10 L410.23,570.96 L411.27,567.94 L412.30,565.03 L413.34,562.23 L414.37,559.54 L415.41,556.95 L416.44,554.46 L417.48,552.06 L418.52,549.74 L419.55,547.51 L420.59,545.35 L421.62,543.27 L422.66,541.27 L423.69,539.33 L424.73,537.46 L425.76,535.64 L426.80,533.89 L427.84,532.20 L428.87,530.56 L429.91,528.97 L430.94,527.43 L431.98,525.93 L433.01,524.49 L434.05,523.08 L435.08,521.72 L436.12,520.39 L437.16,519.11 L438.19,517.86 L439.23,516.65 L440.26,515.47 L441.30,514.32 L442.33,513.21 L443.37,512.12 L444.40,511.06 L445.44,510.03 L446.48,509.03 L447.51,508.05 L448.55,507.10 L449.58,506.17 L450.62,505.26 L451.65,504.38 L452.69,503.52 L453.72,502.68 L454.76,501.85 L455.80,501.05 L456.83,500.27 L457.87,499.50 L458.90,498.75 L459.94,498.02 L460.97,497.30 L462.01,496.60 L463.04,495.92 L464.08,495.25 L465.12,494.59 L466.15,493.95 L467.19,493.32 L468.22,492.71 L469.26,492.11 L470.29,491.52 L471.33,490.94 L472.36,490.37 L473.40,489.82 L474.44,489.27 L475.47,488.74 L476.51,488.21 L477.54,487.70 L478.58,487.19 L479.61,486.70 L480.65,486.21 L481.68,485.74 L482.72,485.27 L483.75,484.81 L484.79,484.36 L485.83,483.92 L486.86,483.48 L487.90,483.05 L488.93,482.63 L489.97,482.22 L491.00,481.81 L492.04,481.42 L493.07,481.02 L494.11,480.64 L495.15,480.26 L496.18,479.88 L497.22,479.52 L498.25,479.16 L499.29,478.80 L500.32,478.45 L501.36,478.11 L502.39,477.77 L503.43,477.44 L504.47,477.11 L505.50,476.78 L506.54,476.47 L507.57,476.15 L508.61,475.84 L509.64,475.54 L510.68,475.24 L511.71,474.95 L512.75,474.66 L513.79,474.37 L514.82,474.09 L515.86,473.81 L516.89,473.53 L517.93,473.26 L518.96,473.00 L520.00,472.73 L521.03,472.47 L522.07,472.22 L523.11,471.97 L524.14,471.72 L525.18,471.47 L526.21,471.23 L527.25,470.99 L528.28,470.75 L529.32,470.52 L530.35,470.29 L531.39,470.07 L532.43,469.84 L533.46,469.62 L534.50,469.40 L535.53,469.19 L536.57,468.97 L537.60,468.77 L538.64,468.56 L539.67,468.35 L540.71,468.15 L541.75,467.95 L542.78,467.75 L543.82,467.56 L544.85,467.37 L545.89,467.18 L546.92,466.99 L547.96,466.80 L548.99,466.62 L550.03,466.44 L551.07,466.26 L552.10,466.08 L553.14,465.91 L554.17,465.73 L555.21,465.56 L556.24,465.39 L557.28,465.23 L558.31,465.06 L559.35,464.90 L560.39,464.73 L561.42,464.57 L562.46,464.42 L563.49,464.26 L564.53,464.11 L565.56,463.95 L566.60,463.80 L567.63,463.65 L568.67,463.50 L569.71,463.36 L570.74,463.21 L571.78,463.07 L572.81,462.93 L573.85,462.78 L574.88,462.65 L575.92,462.51 L576.95,462.37 L577.99,462.24 L579.03,462.10 L580.06,461.97 L581.10,461.84 L582.13,461.71 L583.17,461.58 L584.20,461.45 L585.24,461.33 L586.27,461.20 L587.31,461.08 L588.35,460.96 L589.38,460.84 L590.42,460.72 L591.45,460.60 L592.49,460.48 L593.52,460.36 L594.56,460.25 L595.59,460.14 L596.63,460.02 L597.67,459.91 L598.70,459.80 L599.74,459.69 L600.77,459.58 L601.81,459.47 L602.84,459.36 L603.88,459.26 L604.91,459.15 L605.95,459.05 L606.99,458.95 L608.02,458.84 L609.06,458.74 L610.09,458.64 L611.13,458.54 L612.16,458.44 L613.20,458.35 L614.23,458.25" fill="none" stroke="#000" stroke-width="1.8" stroke-dasharray="4.8,3.40,1.4,3.77" stroke-dashoffset="1.14"/>
<path d="M399.80,608.00 L400.01,607.52 L400.23,606.96 L400.44,606.36 L400.66,605.74 L400.87,605.11 L401.09,604.46 L401.30,603.80 L401.51,603.13 L401.73,602.46 L401.94,601.79 L402.16,601.11 L402.37,600.43 L402.59,599.74 L402.80,599.06 L403.02,598.37 L403.23,597.69 L403.44,597.01 L403.66,596.32 L403.87,595.64 L404.09,594.96 L404.30,594.28 L404.52,593.60 L404.73,592.92 L404.94,592.25 L405.16,591.58 L405.37,590.91 L405.59,590.24 L405.80,589.58 L406.02,588.91 L406.23,588.26 L406.45,587.60 L406.66,586.95 L406.87,586.30 L407.09,585.65 L407.30,585.01 L407.52,584.37 L407.73,583.73 L407.95,583.10 L408.16,582.47 L409.21,579.42 L410.27,576.45 L411.32,573.57 L412.38,570.78 L413.43,568.07 L414.49,565.45 L415.54,562.90 L416.60,560.44 L417.65,558.05 L418.70,555.74 L419.76,553.50 L420.81,551.33 L421.87,549.23 L422.92,547.20 L423.98,545.22 L425.03,543.31 L426.09,541.45 L427.14,539.65 L428.19,537.91 L429.25,536.21 L430.30,534.57 L431.36,532.97 L432.41,531.42 L433.47,529.92 L434.52,528.45 L435.58,527.03 L436.63,525.65 L437.68,524.30 L438.74,523.00 L439.79,521.72 L440.85,520.49 L441.90,519.28 L442.96,518.11 L444.01,516.96 L445.07,515.85 L446.12,514.76 L447.17,513.70 L448.23,512.67 L449.28,511.66 L450.34,510.68 L451.39,509.72 L452.45,508.79 L453.50,507.88 L454.56,506.98 L455.61,506.11 L456.66,505.26 L457.72,504.43 L458.77,503.62 L459.83,502.83 L460.88,502.05 L461.94,501.29 L462.99,500.55 L464.05,499.82 L465.10,499.11 L466.15,498.41 L467.21,497.73 L468.26,497.07 L469.32,496.41 L470.37,495.77 L471.43,495.15 L472.48,494.53 L473.54,493.93 L474.59,493.34 L475.64,492.76 L476.70,492.20 L477.75,491.64 L478.81,491.10 L479.86,490.56 L480.92,490.04 L481.97,489.52 L483.03,489.02 L484.08,488.52 L485.14,488.03 L486.19,487.55 L487.24,487.09 L488.30,486.62 L489.35,486.17 L490.41,485.73 L491.46,485.29 L492.52,484.86 L493.57,484.44 L494.63,484.02 L495.68,483.61 L496.73,483.21 L497.79,482.82 L498.84,482.43 L499.90,482.05 L500.95,481.67 L502.01,481.30 L503.06,480.94 L504.12,480.58 L505.17,480.23 L506.22,479.88 L507.28,479.54 L508.33,479.21 L509.39,478.88 L510.44,478.55 L511.50,478.23 L512.55,477.91 L513.61,477.60 L514.66,477.30 L515.71,476.99 L516.77,476.70 L517.82,476.40 L518.88,476.12 L519.93,475.83 L520.99,475.55 L522.04,475.27 L523.10,475.00 L524.15,474.73 L525.20,474.47 L526.26,474.21 L527.31,473.95 L528.37,473.69 L529.42,473.44 L530.48,473.20 L531.53,472.95 L532.59,472.71 L533.64,472.47 L534.69,472.24 L535.75,472.01 L536.80,471.78 L537.86,471.55 L538.91,471.33 L539.97,471.11 L541.02,470.90 L542.08,470.68 L543.13,470.47 L544.18,470.26 L545.24,470.06 L546.29,469.85 L547.35,469.65 L548.40,469.45 L549.46,469.26 L550.51,469.06 L551.57,468.87 L552.62,468.68 L553.67,468.50 L554.73,468.31 L555.78,468.13 L556.84,467.95 L557.89,467.77 L558.95,467.59 L560.00,467.42 L561.06,467.25 L562.11,467.08 L563.16,466.91 L564.22,466.74 L565.27,466.58 L566.33,466.42 L567.38,466.26 L568.44,466.10 L569.49,465.94 L570.55,465.78 L571.60,465.63 L572.65,465.48 L573.71,465.33 L574.76,465.18 L575.82,465.03 L576.87,464.89 L577.93,464.74 L578.98,464.60 L580.04,464.46 L581.09,464.32 L582.14,464.18 L583.20,464.04 L584.25,463.91 L585.31,463.77 L586.36,463.64 L587.42,463.51 L588.47,463.38 L589.53,463.25 L590.58,463.12 L591.63,463.00 L592.69,462.87 L593.74,462.75 L594.80,462.63 L595.85,462.51 L596.91,462.39 L597.96,462.27 L599.02,462.15 L600.07,462.03 L601.12,461.92 L602.18,461.80 L603.23,461.69 L604.29,461.58 L605.34,461.47 L606.40,461.36 L607.45,461.25 L608.51,461.14 L609.56,461.03 L610.61,460.93 L611.67,460.82 L612.72,460.72 L613.78,460.62 L614.83,460.51 L615.89,460.41 L616.94,460.31 L618.00,460.21" fill="none" stroke="#ff0000" stroke-width="1.5"/>
</g>
<circle cx="407.00" cy="582.80" r="3.15" fill="#fff" stroke="#000" stroke-width="1.6"/>
<circle cx="412.70" cy="580.70" r="3.15" fill="#fff" stroke="#000" stroke-width="1.6"/>
<circle cx="420.50" cy="560.00" r="3.15" fill="#fff" stroke="#000" stroke-width="1.6"/>
<circle cx="441.80" cy="481.50" r="3.15" fill="#fff" stroke="#000" stroke-width="1.6"/>
<circle cx="483.00" cy="483.10" r="3.15" fill="#fff" stroke="#000" stroke-width="1.6"/>
<circle cx="525.20" cy="484.40" r="3.15" fill="#fff" stroke="#000" stroke-width="1.6"/>
<circle cx="609.00" cy="453.30" r="3.15" fill="#fff" stroke="#000" stroke-width="1.6"/>
<line x1="403.00" y1="576.00" x2="403.00" y2="582.35" stroke="#2a2a2a" stroke-width="1.3"/>
<line x1="401.00" y1="576.00" x2="405.00" y2="576.00" stroke="#2a2a2a" stroke-width="1.3"/>
<line x1="401.80" y1="579.40" x2="401.80" y2="584.35" stroke="#2a2a2a" stroke-width="1.3"/>
<line x1="399.80" y1="579.40" x2="403.80" y2="579.40" stroke="#2a2a2a" stroke-width="1.3"/>
<line x1="407.00" y1="586.45" x2="407.00" y2="591.10" stroke="#2a2a2a" stroke-width="1.3"/>
<line x1="405.00" y1="591.10" x2="409.00" y2="591.10" stroke="#2a2a2a" stroke-width="1.3"/>
<line x1="412.70" y1="584.35" x2="412.70" y2="593.00" stroke="#2a2a2a" stroke-width="1.3"/>
<line x1="410.70" y1="593.00" x2="414.70" y2="593.00" stroke="#2a2a2a" stroke-width="1.3"/>
<line x1="420.50" y1="563.65" x2="420.50" y2="575.90" stroke="#2a2a2a" stroke-width="1.3"/>
<line x1="418.50" y1="575.90" x2="422.50" y2="575.90" stroke="#2a2a2a" stroke-width="1.3"/>
<line x1="441.80" y1="447.20" x2="441.80" y2="477.85" stroke="#2a2a2a" stroke-width="1.3"/>
<line x1="439.80" y1="447.20" x2="443.80" y2="447.20" stroke="#2a2a2a" stroke-width="1.3"/>
<line x1="441.80" y1="485.15" x2="441.80" y2="516.00" stroke="#2a2a2a" stroke-width="1.3"/>
<line x1="439.80" y1="516.00" x2="443.80" y2="516.00" stroke="#2a2a2a" stroke-width="1.3"/>
<line x1="483.00" y1="477.60" x2="483.00" y2="479.45" stroke="#2a2a2a" stroke-width="1.3"/>
<line x1="481.00" y1="477.60" x2="485.00" y2="477.60" stroke="#2a2a2a" stroke-width="1.3"/>
<line x1="483.00" y1="486.75" x2="483.00" y2="488.50" stroke="#2a2a2a" stroke-width="1.3"/>
<line x1="481.00" y1="488.50" x2="485.00" y2="488.50" stroke="#2a2a2a" stroke-width="1.3"/>
<line x1="525.20" y1="478.70" x2="525.20" y2="480.75" stroke="#2a2a2a" stroke-width="1.3"/>
<line x1="523.20" y1="478.70" x2="527.20" y2="478.70" stroke="#2a2a2a" stroke-width="1.3"/>
<line x1="525.20" y1="488.05" x2="525.20" y2="491.00" stroke="#2a2a2a" stroke-width="1.3"/>
<line x1="523.20" y1="491.00" x2="527.20" y2="491.00" stroke="#2a2a2a" stroke-width="1.3"/>
<line x1="609.00" y1="456.95" x2="609.00" y2="464.10" stroke="#2a2a2a" stroke-width="1.3"/>
<line x1="607.00" y1="464.10" x2="611.00" y2="464.10" stroke="#2a2a2a" stroke-width="1.3"/>
<circle cx="403.30" cy="594.30" r="3.7" fill="#ff0000"/>
<circle cx="401.50" cy="586.40" r="3.7" fill="#ff0000"/>
<circle cx="408.00" cy="577.50" r="3.7" fill="#ff0000"/>
<circle cx="412.20" cy="574.40" r="3.7" fill="#ff0000"/>
<circle cx="420.20" cy="543.70" r="3.7" fill="#ff0000"/>
<circle cx="441.50" cy="542.20" r="3.7" fill="#ff0000"/>
<circle cx="483.20" cy="467.40" r="3.7" fill="#ff0000"/>
<circle cx="525.50" cy="447.20" r="3.7" fill="#ff0000"/>
<circle cx="608.90" cy="440.30" r="3.7" fill="#ff0000"/>
<line x1="403.30" y1="597.70" x2="403.30" y2="606.90" stroke="#ff0000" stroke-width="1.3"/>
<line x1="401.30" y1="606.90" x2="405.30" y2="606.90" stroke="#ff0000" stroke-width="1.3"/>
<line x1="408.00" y1="569.40" x2="408.00" y2="574.10" stroke="#ff0000" stroke-width="1.3"/>
<line x1="406.00" y1="569.40" x2="410.00" y2="569.40" stroke="#ff0000" stroke-width="1.3"/>
<line x1="412.20" y1="565.80" x2="412.20" y2="571.00" stroke="#ff0000" stroke-width="1.3"/>
<line x1="410.20" y1="565.80" x2="414.20" y2="565.80" stroke="#ff0000" stroke-width="1.3"/>
<line x1="420.20" y1="508.60" x2="420.20" y2="540.30" stroke="#ff0000" stroke-width="1.3"/>
<line x1="418.20" y1="508.60" x2="422.20" y2="508.60" stroke="#ff0000" stroke-width="1.3"/>
<line x1="483.20" y1="431.50" x2="483.20" y2="464.00" stroke="#ff0000" stroke-width="1.3"/>
<line x1="481.20" y1="431.50" x2="485.20" y2="431.50" stroke="#ff0000" stroke-width="1.3"/>
<line x1="525.50" y1="441.80" x2="525.50" y2="443.80" stroke="#ff0000" stroke-width="1.3"/>
<line x1="523.50" y1="441.80" x2="527.50" y2="441.80" stroke="#ff0000" stroke-width="1.3"/>
<line x1="525.50" y1="450.60" x2="525.50" y2="452.60" stroke="#ff0000" stroke-width="1.3"/>
<line x1="523.50" y1="452.60" x2="527.50" y2="452.60" stroke="#ff0000" stroke-width="1.3"/>
<line x1="608.90" y1="432.80" x2="608.90" y2="436.90" stroke="#ff0000" stroke-width="1.3"/>
<line x1="606.90" y1="432.80" x2="610.90" y2="432.80" stroke="#ff0000" stroke-width="1.3"/>
</svg></body></html>
